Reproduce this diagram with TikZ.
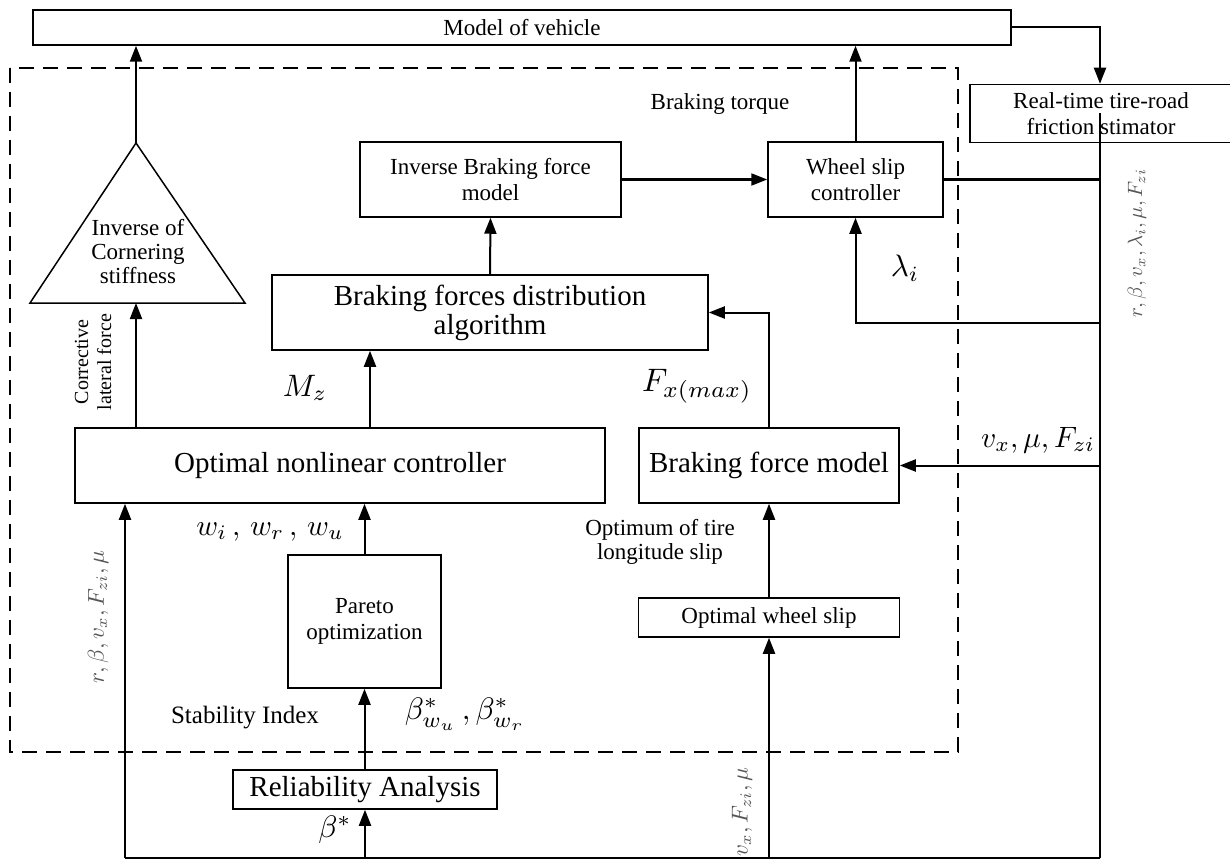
\documentclass[tikz,border=0pt]{standalone}
\usepackage{fontspec}
\setmainfont{Liberation Serif}
\usetikzlibrary{arrows.meta,positioning}
\definecolor{lblgray}{RGB}{85,85,85}
\tikzset{
  box/.style={draw, line width=1.5pt, minimum height=75pt, align=center, inner sep=2pt, font=\fontsize{23}{26}\selectfont},
  bigbox/.style={box, font=\fontsize{29}{29}\selectfont},
  arr/.style={line width=2pt, -{Triangle[length=16pt,width=12pt]}},
  wire/.style={line width=2pt},
  lbl/.style={font=\fontsize{23}{24}\selectfont, align=center, inner sep=0pt},
  mathlbl/.style={font=\fontsize{10}{12}\selectfont, inner sep=0pt, scale=3.1},
  sidelbl/.style={font=\fontsize{10}{12}\selectfont, text=lblgray, rotate=90, inner sep=0pt, scale=2.3},
  dashbox/.style={line width=1.8pt, dash pattern=on 15pt off 9pt},
}
\begin{document}
\begin{tikzpicture}[x=1pt,y=-1pt]
  \useasboundingbox (0,0) rectangle (1230,861);

  % Controller frame
  \draw[dashbox] (10,68) rectangle (958,752);

  % Blocks
  \node[box, minimum width=978pt, minimum height=35pt] (model) at (522,27.5) {Model of vehicle};
  \node[box, minimum width=262pt, minimum height=58pt] (stim) at (1101,113.5) {Real-time tire-road\\friction stimator};
  \node[box, minimum width=261pt] (inv) at (490.5,179.5) {Inverse Braking force\\model};
  \node[box, minimum width=175pt] (wheel) at (855.5,179.5) {Wheel slip\\controller};
  \node[bigbox, minimum width=436pt] (dist) at (490,312.5) {Braking forces distribution\\algorithm};
  \node[bigbox, minimum width=530pt] (optc) at (340,465.5) {Optimal nonlinear controller};
  \node[bigbox, minimum width=260pt] (bfm) at (769,465.5) {Braking force model};
  \node[box, minimum width=153pt, minimum height=133pt] (pareto) at (364.5,621.5) {Pareto\\optimization};
  \node[bigbox, minimum width=264pt, minimum height=39pt] (rel) at (365,789.5) {Reliability Analysis};
  \node[box, minimum width=261pt, minimum height=39pt] (ows) at (769,617.5) {Optimal wheel slip};

  % Triangle block
  \coordinate (triTop) at (136,143);
  \coordinate (triBase) at (136,303);
  \draw[line width=1.5pt] (triTop) -- (245,303) -- (30,303) -- cycle;
  \node[lbl] (tri) at (138,252) {Inverse of\\Cornering\\stiffness};

  % Bus lines
  \coordinate (bus) at (1100,113);
  \coordinate (busBot) at (1100,858);
  \coordinate (leftBot) at (125,858);
  \draw[wire] (bus) -- (busBot);
  \draw[wire] (leftBot) -- (busBot);

  % Connectors
  \draw[arr] (model.east) -| (bus |- stim.north);
  \draw[arr] (triTop) -- (triTop |- model.south);
  \draw[arr] (wheel.north) -- (wheel.north |- model.south);
  \draw[arr] (inv.east) -- (wheel.west);
  \draw[wire] (wheel.east) -- (wheel.east -| bus);
  \draw[arr] (bus |- 0,323) -| (wheel.south);
  \draw[arr] (dist.north) -- (inv.south);
  \draw[arr] (bfm.north) |- (dist.east);
  \draw[arr] (optc.north -| triTop) -- (triBase);
  \draw[arr] ([xshift=30pt]optc.north) -- ([xshift=30pt]optc.north |- dist.south);
  \draw[arr] (bus |- bfm.east) -- (bfm.east);
  \draw[arr] (pareto.north) -- (pareto.north |- optc.south);
  \draw[arr] (rel.north -| pareto.north) -- (pareto.south);
  \draw[arr] (rel.south |- leftBot) -- (rel.south);
  \draw[arr] (leftBot) -- (leftBot |- optc.south);
  \draw[arr] (ows.south |- leftBot) -- (ows.south);
  \draw[arr] (ows.north) -- (bfm.south);

  % Labels
  \node[lbl] (torque) at (720,104) {Braking torque};
  \node[mathlbl] (lam) at (905,268) {$\lambda_i$};
  \node[mathlbl, scale=1.05] (fx) at (697,386) {$F_{x(max)}$};
  \node[mathlbl] (mz) at (305,388) {$M_z$};
  \node[lbl, rotate=90, font=\fontsize{20}{23}\selectfont] (corr) at (93,362) {Corrective\\lateral force};
  \node[mathlbl, scale=0.95] (wts) at (270,532) {$w_i\,,\,w_r\,,\,w_u$};
  \node[lbl, font=\fontsize{25}{25}\selectfont] (stab) at (245,718) {Stability Index};
  \node[mathlbl] (bw) at (465,714) {$\beta^*_{w_u}\,,\beta^*_{w_r}$};
  \node[mathlbl] (bstar) at (335,830) {$\beta^*$};
  \node[lbl] (optslip) at (660,542) {Optimum of tire\\longitude slip};
  \node[mathlbl, scale=0.95] (vmf) at (1038,440) {$v_x,\mu,F_{zi}$};
  \node[sidelbl] (sideL) at (98,617) {$r,\beta,v_x,F_{zi},\mu$};
  \node[sidelbl] (sideM) at (742,812) {$v_x,F_{zi},\mu$};
  \node[sidelbl, scale=0.9] (sideR) at (1137,243) {$r,\beta,v_x,\lambda_i,\mu,F_{zi}$};
\end{tikzpicture}
\end{document}
